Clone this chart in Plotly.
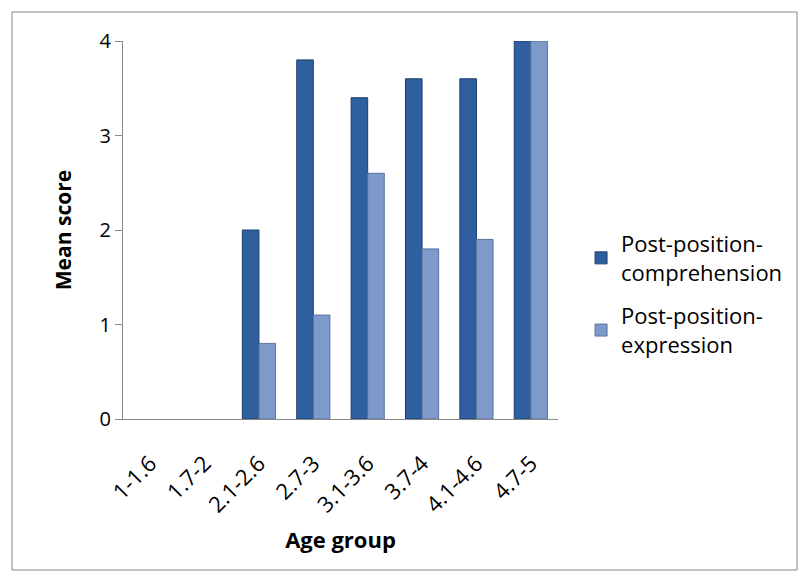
import plotly.graph_objects as go

categories = ["1-1.6", "1.7-2", "2.1-2.6", "2.7-3", "3.1-3.6", "3.7-4", "4.1-4.6", "4.7-5"]
comprehension = [None, None, 2.0, 3.8, 3.4, 3.6, 3.6, 4.0]
expression = [None, None, 0.8, 1.1, 2.6, 1.8, 1.9, 4.0]

FONT = "Open Sans, Liberation Sans, sans-serif"

fig = go.Figure()
fig.add_trace(go.Bar(
    x=categories, y=comprehension, name="Post-position-<br>comprehension",
    legendgroup="comp",
    marker=dict(color="#2F5F9F", line=dict(color="#1E3F6E", width=1)),
))
fig.add_trace(go.Bar(
    x=categories, y=expression, name="Post-position-<br>expression",
    legendgroup="expr",
    marker=dict(color="#7E9ACB", line=dict(color="#5A739E", width=1)),
))

fig.update_layout(
    width=805, height=581,
    margin=dict(l=123, r=247, t=41, b=162),
    paper_bgcolor="white", plot_bgcolor="white",
    barmode="group", bargap=0.39, bargroupgap=0.0,
    font=dict(family=FONT, size=21, color="black"),
    showlegend=True,
    legend=dict(x=1.053, y=0.33, xanchor="left", yanchor="middle",
                font=dict(family=FONT, size=22, color="black"),
                tracegroupgap=12, itemwidth=30),
    xaxis=dict(showline=True, linecolor="#888888", linewidth=1,
               tickangle=-45, ticks="", tickfont=dict(size=22), ticklabelstandoff=22,
               title=dict(text="<b>Age group</b>", font=dict(size=22), standoff=15),
               showgrid=False),
    yaxis=dict(range=[0, 4], dtick=1, showline=True, linecolor="#888888", linewidth=1,
               ticks="outside", ticklen=7, tickcolor="#888888", tickfont=dict(size=20),
               showgrid=False, zeroline=False,
               title=dict(text="<b>Mean score</b>", font=dict(size=21), standoff=22)),
    shapes=[dict(type="rect", xref="paper", yref="paper",
                 x0=-111/435, x1=(797-123)/435, y0=-(570-419)/378, y1=(419-12)/378,
                 line=dict(color="#888888", width=1), layer="below")],
)

fig.write_html("out.html")
